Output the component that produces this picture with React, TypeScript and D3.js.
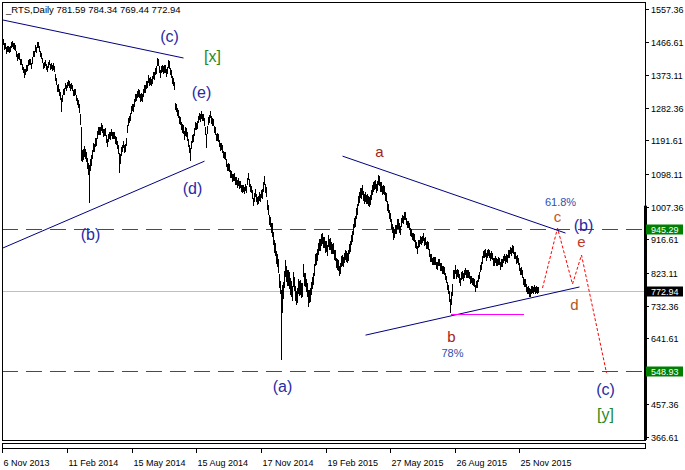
import React from 'react';
import * as d3 from 'd3';

// daily highs / lows (6 Nov 2013 .. late Dec 2015)
const HIGH: number[] = [
  1476, 1475, 1462, 1463, 1451, 1455, 1454, 1452, 1454, 1466,
  1469, 1464, 1462, 1457, 1441, 1431, 1435, 1434, 1419, 1418,
  1404, 1397, 1391, 1390, 1401, 1402, 1417, 1418, 1419, 1407,
  1423, 1442, 1442, 1456, 1453, 1466, 1466, 1455, 1440, 1436,
  1422, 1406, 1411, 1415, 1404, 1400, 1411, 1417, 1404, 1406,
  1402, 1406, 1399, 1377, 1366, 1347, 1348, 1336, 1327, 1310,
  1318, 1336, 1338, 1353, 1347, 1354, 1360, 1356, 1348, 1352,
  1346, 1332, 1334, 1335, 1319, 1309, 1304, 1292, 1264, 1229,
  1166, 1168, 1176, 1169, 1160, 1142, 1130, 1123, 1140, 1150,
  1164, 1184, 1183, 1198, 1199, 1218, 1229, 1230, 1230, 1241,
  1235, 1223, 1225, 1226, 1207, 1196, 1209, 1216, 1214, 1225,
  1216, 1216, 1216, 1203, 1201, 1190, 1180, 1158, 1153, 1174,
  1180, 1191, 1180, 1182, 1199, 1234, 1254, 1261, 1268, 1288,
  1294, 1293, 1307, 1320, 1322, 1330, 1334, 1333, 1322, 1325,
  1321, 1335, 1346, 1345, 1356, 1358, 1374, 1366, 1367, 1364,
  1370, 1383, 1381, 1394, 1399, 1421, 1418, 1400, 1388, 1400,
  1403, 1398, 1401, 1403, 1390, 1397, 1417, 1412, 1394, 1387,
  1371, 1366, 1354, 1297, 1294, 1281, 1277, 1259, 1256, 1242,
  1237, 1234, 1217, 1228, 1226, 1214, 1196, 1179, 1172, 1191,
  1206, 1209, 1226, 1242, 1241, 1245, 1261, 1269, 1266, 1275,
  1266, 1266, 1254, 1228, 1210, 1231, 1257, 1262, 1275, 1260,
  1254, 1252, 1233, 1229, 1211, 1213, 1209, 1194, 1184, 1186,
  1178, 1163, 1161, 1159, 1140, 1127, 1128, 1125, 1110, 1108,
  1098, 1099, 1100, 1089, 1090, 1081, 1086, 1079, 1080, 1069,
  1068, 1069, 1063, 1072, 1066, 1088, 1102, 1084, 1070, 1066,
  1053, 1032, 1045, 1057, 1043, 1035, 1038, 1048, 1044, 1054,
  1057, 1077, 1094, 1072, 1061, 1025, 1012, 983, 979, 963,
  961, 938, 915, 907, 885, 876, 861, 820, 802, 776,
  790, 797, 828, 858, 842, 832, 832, 826, 808, 802,
  786, 826, 813, 788, 774, 782, 805, 800, 803, 795,
  794, 849, 823, 822, 807, 795, 776, 777, 781, 798,
  813, 823, 849, 875, 880, 891, 907, 919, 918, 931,
  935, 924, 924, 911, 912, 902, 928, 919, 920, 908,
  905, 906, 888, 886, 866, 862, 858, 843, 850, 869,
  872, 868, 879, 888, 884, 879, 886, 905, 911, 929,
  939, 959, 977, 981, 1003, 1015, 1038, 1048, 1060, 1059,
  1067, 1050, 1042, 1048, 1041, 1042, 1037, 1035, 1039, 1054,
  1068, 1076, 1080, 1083, 1072, 1079, 1096, 1093, 1077, 1075,
  1066, 1068, 1065, 1048, 1045, 1022, 1014, 998, 991, 972,
  960, 950, 946, 957, 956, 972, 972, 961, 955, 975,
  983, 981, 992, 992, 977, 969, 969, 963, 948, 945,
  935, 934, 931, 914, 910, 897, 915, 916, 925, 923,
  927, 933, 920, 922, 910, 912, 908, 889, 875, 876,
  866, 867, 868, 868, 855, 854, 863, 863, 850, 850,
  843, 842, 840, 824, 816, 797, 791, 772, 752, 770,
  792, 831, 830, 844, 831, 834, 832, 819, 810, 826,
  828, 822, 831, 838, 831, 830, 831, 827, 815, 816,
  810, 809, 806, 791, 802, 803, 818, 827, 846, 853,
  869, 885, 887, 890, 879, 886, 891, 886, 879, 884,
  880, 865, 864, 871, 864, 863, 867, 866, 854, 862,
  862, 871, 877, 870, 876, 872, 886, 886, 896, 893,
  900, 898, 882, 882, 869, 872, 866, 850, 838, 839,
  830, 811, 806, 806, 792, 785, 786, 782, 778, 787,
  786, 784, 790, 783, 788, 784, 784.34,
];

const LOW: number[] = [
  1460, 1459, 1446, 1447, 1435, 1439, 1438, 1436, 1438, 1450,
  1453, 1448, 1446, 1441, 1425, 1415, 1419, 1418, 1403, 1402,
  1388, 1381, 1368, 1374, 1385, 1386, 1401, 1402, 1403, 1391,
  1407, 1426, 1426, 1440, 1437, 1450, 1450, 1439, 1424, 1420,
  1408, 1391, 1396, 1401, 1390, 1385, 1396, 1402, 1389, 1392,
  1386, 1390, 1383, 1359, 1348, 1327, 1328, 1316, 1305, 1272,
  1300, 1320, 1321, 1336, 1331, 1338, 1344, 1339, 1332, 1336,
  1330, 1316, 1318, 1319, 1303, 1292, 1284, 1270, 1236, 1137,
  1133, 1138, 1148, 1141, 1132, 1113, 1096, 1018, 1108, 1121,
  1142, 1162, 1161, 1176, 1177, 1196, 1207, 1208, 1208, 1219,
  1215, 1203, 1205, 1206, 1187, 1176, 1189, 1196, 1194, 1205,
  1196, 1196, 1196, 1183, 1181, 1170, 1156, 1104, 1129, 1150,
  1160, 1171, 1159, 1162, 1179, 1213, 1233, 1241, 1248, 1267,
  1274, 1273, 1287, 1300, 1302, 1310, 1314, 1312, 1301, 1304,
  1300, 1314, 1326, 1324, 1336, 1338, 1354, 1346, 1347, 1344,
  1350, 1363, 1361, 1374, 1379, 1399, 1399, 1381, 1367, 1380,
  1383, 1377, 1381, 1382, 1369, 1377, 1396, 1391, 1374, 1367,
  1351, 1346, 1334, 1277, 1273, 1260, 1256, 1239, 1236, 1222,
  1215, 1212, 1195, 1206, 1204, 1192, 1174, 1157, 1137, 1169,
  1186, 1189, 1206, 1222, 1221, 1225, 1241, 1249, 1245, 1254,
  1246, 1246, 1234, 1208, 1173, 1211, 1237, 1242, 1255, 1240,
  1234, 1232, 1213, 1209, 1191, 1193, 1189, 1174, 1164, 1166,
  1158, 1143, 1141, 1139, 1120, 1107, 1108, 1105, 1090, 1088,
  1078, 1079, 1080, 1069, 1070, 1061, 1066, 1059, 1060, 1049,
  1048, 1049, 1043, 1052, 1046, 1068, 1082, 1064, 1050, 1046,
  1031, 1010, 1023, 1035, 1021, 1013, 1016, 1026, 1022, 1032,
  1031, 1051, 1068, 1046, 1035, 999, 986, 957, 953, 937,
  925, 902, 879, 871, 849, 840, 825, 784, 766, 581,
  712, 753, 784, 814, 798, 788, 788, 781, 764, 758,
  746, 786, 773, 747, 734, 742, 765, 760, 763, 754,
  758, 813, 787, 786, 771, 759, 730, 741, 745, 762,
  781, 791, 817, 843, 848, 859, 875, 887, 886, 899,
  904, 893, 894, 881, 882, 872, 897, 888, 889, 878,
  877, 878, 860, 858, 838, 834, 830, 815, 822, 841,
  844, 840, 851, 860, 856, 851, 858, 877, 883, 901,
  911, 931, 949, 953, 975, 987, 1010, 1020, 1032, 1031,
  1041, 1024, 1016, 1022, 1015, 1016, 1011, 1009, 1013, 1028,
  1042, 1050, 1054, 1057, 1046, 1053, 1070, 1067, 1051, 1049,
  1042, 1044, 1041, 1024, 1021, 998, 990, 974, 967, 948,
  936, 916, 922, 933, 932, 948, 948, 937, 931, 951,
  963, 961, 972, 972, 957, 949, 949, 943, 928, 925,
  915, 914, 911, 894, 890, 877, 895, 896, 905, 903,
  907, 913, 900, 902, 890, 892, 888, 869, 855, 856,
  846, 847, 848, 848, 835, 834, 843, 843, 830, 830,
  823, 822, 820, 804, 796, 777, 767, 744, 712, 736,
  760, 809, 808, 822, 809, 812, 810, 797, 788, 804,
  808, 802, 811, 818, 811, 810, 811, 807, 795, 796,
  790, 789, 786, 771, 782, 783, 798, 807, 826, 833,
  849, 865, 867, 870, 859, 866, 871, 866, 859, 864,
  860, 845, 844, 851, 844, 843, 847, 846, 834, 842,
  842, 851, 857, 850, 856, 852, 866, 866, 876, 873,
  880, 878, 862, 862, 849, 852, 846, 830, 818, 819,
  810, 791, 786, 786, 772, 765, 766, 757, 758, 767,
  768, 766, 772, 765, 770, 766, 769.44,
];

const LAST_OHLC = [781.59, 784.34, 769.44, 772.94];

const DATE_LABELS = ['6 Nov 2013', '11 Feb 2014', '15 May 2014', '15 Aug 2014', '17 Nov 2014',
  '19 Feb 2015', '27 May 2015', '26 Aug 2015', '25 Nov 2015'];
const DATE_BARS = [0, 65, 130, 194, 259, 324, 388, 453, 517];

const PRICE_TICKS = [1557.36, 1466.61, 1373.11, 1282.36, 1191.61, 1098.11, 1007.36,
  916.61, 823.11, 732.36, 641.61, 457.36, 366.61];

const LEVELS = [945.29, 548.93];

// [bar1, price1, bar2, price2]
const TREND_LINES: number[][] = [
  [0, 1527, 181, 1421],
  [0, 892, 202, 1134],
  [340, 1148, 563, 934],
  [363, 650, 577, 784],
];
const SUPPORT = { from: 448, to: 521, price: 709 };

const PROJ_BARS = [540, 555, 570, 579, 604];
const PROJ_PRICES = [781, 948, 792, 873, 545];

const BLUE = '#2a2aa5';
const GREEN = '#1f8a1f';
const PCT = '#2f4fb0';

const WAVE_LABELS = [
  { t: '(c)', bar: 167, price: 1466, c: BLUE, s: 16 },
  { t: '[x]', bar: 210, price: 1410, c: GREEN, s: 16 },
  { t: '(e)', bar: 199, price: 1310, c: BLUE, s: 16 },
  { t: '(d)', bar: 190, price: 1043, c: BLUE, s: 16 },
  { t: '(b)', bar: 88, price: 915, c: BLUE, s: 16 },
  { t: '(a)', bar: 280, price: 492, c: BLUE, s: 16 },
  { t: 'a', bar: 377, price: 1146, c: '#a52020', s: 15 },
  { t: 'b', bar: 449, price: 631, c: '#a52020', s: 15 },
  { t: '78%', bar: 450, price: 589, c: PCT, s: 11 },
  { t: '61.8%', bar: 558, price: 1009, c: PCT, s: 11 },
  { t: 'c', bar: 555, price: 965, c: '#c0582a', s: 15 },
  { t: '(b)', bar: 581, price: 940, c: BLUE, s: 16 },
  { t: 'e', bar: 579, price: 895, c: '#c03a2a', s: 15 },
  { t: 'd', bar: 572, price: 720, c: '#b0581f', s: 15 },
  { t: '(c)', bar: 603, price: 484, c: BLUE, s: 16 },
  { t: '[y]', bar: 603, price: 415, c: GREEN, s: 16 },
];

const W = 685;
const H = 470;
const LEFT = 2;
const RIGHT = 645;
const TOP = 2;
const BOTTOM = 440;
const AXIS_FONT = '"Liberation Sans", Arial, sans-serif';

const App: React.FC = () => {
  const x = d3.scaleLinear().domain([0, 643]).range([LEFT + 0.5, RIGHT + 0.5]);
  const y = d3.scaleLinear().domain([366.61, 1557.36]).range([437, 9]);
  const last = LAST_OHLC[3];

  const bars = HIGH.map((h, i) => {
    const px = Math.round(x(i) - 0.5) + 0.5;
    return `M${px},${y(h).toFixed(1)}V${(y(LOW[i]) + 0.5).toFixed(1)}`;
  }).join('');

  const proj = d3.line<number>()
    .x((_, i) => x(PROJ_BARS[i]))
    .y((d) => y(d))(PROJ_PRICES) || '';

  return (
    <svg width={W} height={H} style={{ position: 'absolute', left: 0, top: 0, background: '#fff' }}
      fontFamily={AXIS_FONT}>
      <rect x={0} y={0} width={W} height={H} fill="#fff" />
      <defs>
        <clipPath id="plot">
          <rect x={LEFT} y={TOP} width={RIGHT - LEFT} height={BOTTOM - TOP} />
        </clipPath>
      </defs>

      <g clipPath="url(#plot)">
        {/* current price line */}
        <line x1={LEFT} x2={RIGHT} y1={Math.round(y(last)) + 0.5} y2={Math.round(y(last)) + 0.5}
          stroke="#c0c0c0" strokeWidth={1} shapeRendering="crispEdges" />
        {/* horizontal levels */}
        {LEVELS.map((v) => (
          <line key={v} x1={LEFT} x2={RIGHT} y1={Math.round(y(v)) + 0.5} y2={Math.round(y(v)) + 0.5}
            stroke="#008000" strokeWidth={1} strokeDasharray="16,8" shapeRendering="crispEdges" />
        ))}
        {/* trend lines */}
        {TREND_LINES.map((l, i) => (
          <line key={i} x1={x(l[0])} y1={y(l[1])} x2={x(l[2])} y2={y(l[3])}
            stroke="#000080" strokeWidth={1} />
        ))}
        <line x1={x(SUPPORT.from)} x2={x(SUPPORT.to)} y1={Math.round(y(SUPPORT.price)) + 0.5}
          y2={Math.round(y(SUPPORT.price)) + 0.5} stroke="#ff00ff" strokeWidth={1} shapeRendering="crispEdges" />

        <path d={bars} stroke="#000" strokeWidth={1} fill="none" shapeRendering="crispEdges" />

        <path d={proj} stroke="#ff0000" strokeWidth={1} fill="none" strokeDasharray="3,2" />

        {WAVE_LABELS.map((l, i) => (
          <text key={i} x={x(l.bar)} y={y(l.price)} fill={l.c} fontSize={l.s} textAnchor="middle">{l.t}</text>
        ))}
      </g>

      {/* frame */}
      <rect x={LEFT + 0.5} y={TOP + 0.5} width={RIGHT - LEFT} height={BOTTOM - TOP}
        fill="none" stroke="#000" strokeWidth={1} />
      <rect x={LEFT + 0.5} y={443.5} width={RIGHT - LEFT} height={5} fill="none" stroke="#000" strokeWidth={1} />
      <rect x={RIGHT - 1} y={y(1007.36) - 1} width={3} height={BOTTOM - y(1007.36) + 1} fill="#000" />

      <text x={6} y={13} fontSize={9.5} fill="#000">
        {`_RTS,Daily  ${LAST_OHLC.map((v) => v.toFixed(2)).join(' ')}`}
      </text>

      {/* price scale */}
      {PRICE_TICKS.map((v) => {
        const ty = Math.round(y(v)) + 0.5;
        return (
          <g key={v}>
            <line x1={RIGHT} x2={RIGHT + 4} y1={ty} y2={ty} stroke="#000" />
            <text x={651} y={ty + 3.2} fontSize={9} fill="#000">{v.toFixed(2)}</text>
          </g>
        );
      })}
      {LEVELS.map((v) => {
        const ty = Math.round(y(v)) + 0.5;
        return (
          <g key={v}>
            <rect x={646} y={ty - 5} width={37} height={10} fill="#008000" />
            <text x={651} y={ty + 3.2} fontSize={9} fill="#fff">{v.toFixed(2)}</text>
          </g>
        );
      })}
      <g>
        <rect x={646} y={Math.round(y(last)) + 0.5 - 5} width={37} height={10} fill="#000" />
        <text x={651} y={Math.round(y(last)) + 3.7} fontSize={9} fill="#fff">{last.toFixed(2)}</text>
      </g>

      {/* time scale */}
      {DATE_BARS.map((b, i) => {
        const tx = Math.round(x(b) - 0.5) + 0.5;
        return (
          <g key={b}>
            <line x1={tx} x2={tx} y1={449} y2={453} stroke="#000" />
            <text x={tx + 1} y={466} fontSize={9} fill="#000">{DATE_LABELS[i]}</text>
          </g>
        );
      })}
    </svg>
  );
};

export default App;
